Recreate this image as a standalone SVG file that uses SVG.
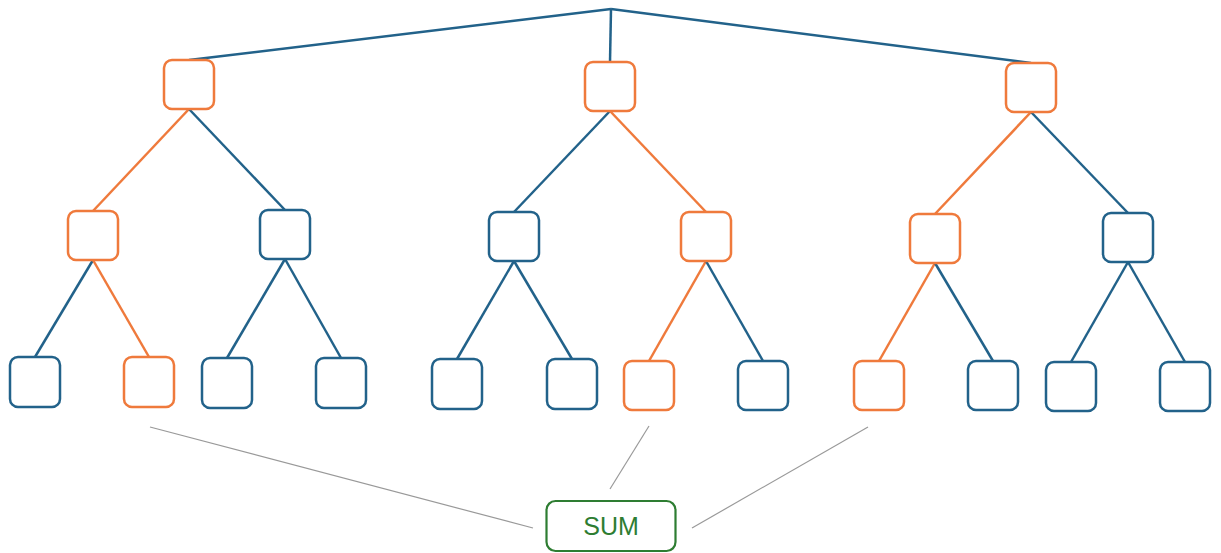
<svg xmlns="http://www.w3.org/2000/svg" width="1221" height="553" viewBox="0 0 1221 553">
<style>
.b{fill:#fff;stroke:#22628a;stroke-width:2.5}
.o{fill:#fff;stroke:#ef7a3c;stroke-width:2.5}
.eb{stroke:#22628a;stroke-width:2.5;fill:none}
.eo{stroke:#ef7a3c;stroke-width:2.5;fill:none}
.g{stroke:#999;stroke-width:1.2;fill:none}
.s{fill:#fff;stroke:#2e7d32;stroke-width:2.2}
.t{font-family:"Liberation Sans",Arial,sans-serif;font-size:25px;fill:#2e7d32;text-anchor:middle}
</style>
<g id="connectors">
<line class="eb" x1="611" y1="9" x2="189" y2="60"/>
<line class="eb" x1="611" y1="9" x2="610" y2="62"/>
<line class="eb" x1="611" y1="9" x2="1031" y2="63"/>
<line class="eo" x1="189" y1="109" x2="93" y2="211"/>
<line class="eb" x1="189" y1="109" x2="285" y2="210"/>
<line class="eb" x1="610" y1="111" x2="514" y2="212"/>
<line class="eo" x1="610" y1="111" x2="706" y2="212"/>
<line class="eo" x1="1031" y1="112" x2="935" y2="214"/>
<line class="eb" x1="1031" y1="112" x2="1128" y2="213"/>
<line class="eb" x1="93" y1="260" x2="35" y2="357"/>
<line class="eo" x1="93" y1="260" x2="149" y2="357"/>
<line class="eb" x1="285" y1="259" x2="227" y2="358"/>
<line class="eb" x1="285" y1="259" x2="341" y2="358"/>
<line class="eb" x1="514" y1="261" x2="457" y2="359"/>
<line class="eb" x1="514" y1="261" x2="572" y2="359"/>
<line class="eo" x1="706" y1="261" x2="649" y2="361"/>
<line class="eb" x1="706" y1="261" x2="763" y2="361"/>
<line class="eo" x1="935" y1="263" x2="879" y2="361"/>
<line class="eb" x1="935" y1="263" x2="993" y2="361"/>
<line class="eb" x1="1128" y1="262" x2="1071" y2="362"/>
<line class="eb" x1="1128" y1="262" x2="1185" y2="362"/>
<line class="g" x1="150" y1="427" x2="533" y2="528"/>
<line class="g" x1="649" y1="426" x2="610" y2="489"/>
<line class="g" x1="868" y1="427" x2="692" y2="528"/>
</g>
<g id="n1"><rect class="o" x="164" y="60" width="50" height="49" rx="8"/></g>
<g id="n2"><rect class="o" x="585" y="62" width="50" height="49" rx="8"/></g>
<g id="n3"><rect class="o" x="1006" y="63" width="50" height="49" rx="8"/></g>
<g id="n4"><rect class="o" x="68" y="211" width="50" height="49" rx="8"/></g>
<g id="n5"><rect class="b" x="260" y="210" width="50" height="49" rx="8"/></g>
<g id="n6"><rect class="b" x="489" y="212" width="50" height="49" rx="8"/></g>
<g id="n7"><rect class="o" x="681" y="212" width="50" height="49" rx="8"/></g>
<g id="n8"><rect class="o" x="910" y="214" width="50" height="49" rx="8"/></g>
<g id="n9"><rect class="b" x="1103" y="213" width="50" height="49" rx="8"/></g>
<g id="l1"><rect class="b" x="10" y="357" width="50" height="50" rx="8"/></g>
<g id="l2"><rect class="o" x="124" y="357" width="50" height="50" rx="8"/></g>
<g id="l3"><rect class="b" x="202" y="358" width="50" height="50" rx="8"/></g>
<g id="l4"><rect class="b" x="316" y="358" width="50" height="50" rx="8"/></g>
<g id="l5"><rect class="b" x="432" y="359" width="50" height="50" rx="8"/></g>
<g id="l6"><rect class="b" x="547" y="359" width="50" height="50" rx="8"/></g>
<g id="l7"><rect class="o" x="624" y="361" width="50" height="49" rx="8"/></g>
<g id="l8"><rect class="b" x="738" y="361" width="50" height="49" rx="8"/></g>
<g id="l9"><rect class="o" x="854" y="361" width="50" height="49" rx="8"/></g>
<g id="l10"><rect class="b" x="968" y="361" width="50" height="49" rx="8"/></g>
<g id="l11"><rect class="b" x="1046" y="362" width="50" height="49" rx="8"/></g>
<g id="l12"><rect class="b" x="1160" y="362" width="50" height="49" rx="8"/></g>
<g id="sum"><rect class="s" x="546.5" y="501" width="129" height="50" rx="9"/><text class="t" x="611" y="535">SUM</text></g>
</svg>
